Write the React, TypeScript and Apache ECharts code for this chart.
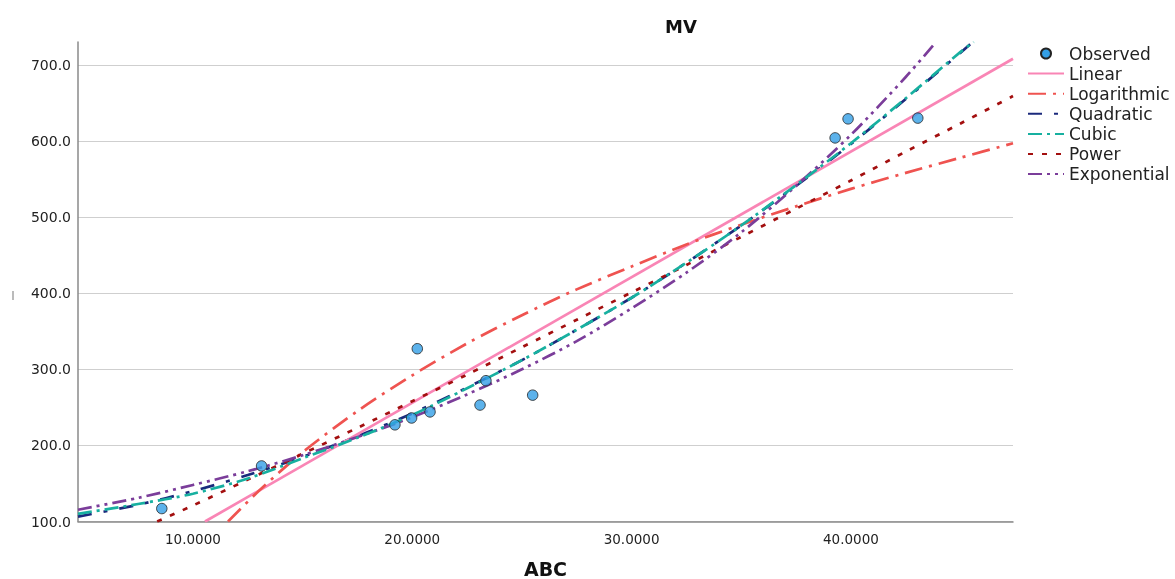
import React, { useEffect, useRef } from 'react';
import * as echarts from 'echarts';

// Observed data points (ABC, MV)
const obsX = [8.58, 13.13, 19.21, 19.97, 20.23, 20.81, 23.09, 23.36, 25.49, 39.28, 39.87, 43.05];
const obsY = [117, 173, 227, 236, 327, 244, 253, 285, 266, 604, 629, 630];

// Fitted curves
const linearX = [10.55, 47.39];
const linearY = [100, 708];

const logX = [11.6, 13, 15, 17.5, 20, 22.5, 25, 27.5, 30, 32.5, 35, 37.5, 40, 42.5, 45, 47.39];
const logY = [100, 140, 191, 245, 292, 334, 371, 405, 435, 464, 490, 514, 537, 558, 578, 597];

const quadX = [4.76, 7.5, 10, 12.5, 15, 17.5, 20, 22.5, 25, 27.5, 30, 32.5, 35, 37.5, 40, 42.5, 45, 45.55];
const quadY = [106.5, 122, 140, 161, 185, 212, 242, 276, 312, 352, 394, 440, 489, 541, 596, 655, 716, 730];

const cubicX = [4.76, 7.5, 10, 12.5, 15, 17.5, 20, 22.5, 25, 27.5, 30, 32.5, 35, 37.5, 40, 42.5, 45, 45.6];
const cubicY = [110, 123, 136.5, 156.5, 183, 210, 240, 275, 312, 352, 394, 440, 489, 542, 597, 656, 717, 730];

const powerX = [8.37, 10, 12.5, 15, 17.5, 20, 22.5, 25, 27.5, 30, 32.5, 35, 37.5, 40, 42.5, 45, 47.39];
const powerY = [100, 121, 155, 189, 223, 258, 293, 329, 365, 401, 437, 474, 511, 548, 586, 623, 659];

const expX = [4.76, 7.5, 10, 12.5, 15, 17.5, 20, 22.5, 25, 27.5, 30, 32.5, 35, 37.5, 40, 42.5, 43.88];
const expY = [115.5, 131, 148, 166, 187, 211, 237, 267, 300, 337, 380, 427, 480, 541, 608, 684, 730];

const xTicks = [10, 20, 30, 40];
const yTicks = [100, 200, 300, 400, 500, 600, 700];
const legendNames = ['Observed', 'Linear', 'Logarithmic', 'Quadratic', 'Cubic', 'Power', 'Exponential'];

const zip = (xs: number[], ys: number[]) => xs.map((x, i) => [x, ys[i]]);

const FONT = 'DejaVu Sans';

export default function App() {
  const ref = useRef<HTMLDivElement>(null);
  useEffect(() => {
    const chart = echarts.init(ref.current!, null, { renderer: 'svg' });
    const lineSeries = (name: string, xs: number[], ys: number[], color: string, type: any, z = 2) => ({
      name,
      type: 'line',
      data: zip(xs, ys),
      symbol: 'none',
      smooth: 0.3,
      z,
      lineStyle: { color, width: 2.7, type },
      itemStyle: { color },
    });
    chart.setOption({
      animation: false,
      title: {
        text: 'MV',
        left: 676,
        top: 12,
        textAlign: 'center',
        textStyle: { fontFamily: FONT, fontWeight: 'bold', fontSize: 18, color: '#111' },
      },
      grid: { left: 78, right: 162, top: 42, bottom: 57.5, outerBoundsMode: 'none', containLabel: false },
      legend: {
        orient: 'vertical',
        left: 1027,
        top: 45,
        padding: 0,
        itemWidth: 36,
        itemHeight: 10,
        itemGap: 3.1,
        itemStyle: { opacity: 0 },
        textStyle: { fontFamily: FONT, fontSize: 17, color: '#222' },
        data: legendNames.map((n) => (n === 'Observed' ? { name: n, itemStyle: { opacity: 1 } } : { name: n })),
      },
      graphic: [
        { type: 'rect', left: 12, top: 291, shape: { width: 2, height: 9 }, style: { fill: '#bbbbbb' } },
      ],
      xAxis: {
        type: 'value',
        min: 4.76,
        max: 47.39,
        name: 'ABC',
        nameLocation: 'middle',
        nameGap: 37.5,
        nameTextStyle: { fontFamily: FONT, fontWeight: 'bold', fontSize: 19, color: '#111' },
        axisLine: { show: true, onZero: false, lineStyle: { color: '#8a8a8a', width: 1.5 } },
        axisTick: { show: false, customValues: xTicks },
        axisLabel: {
          customValues: xTicks,
          formatter: (v: number) => v.toFixed(4),
          margin: 10,
          fontFamily: FONT,
          fontSize: 13.5,
          color: '#222',
        },
        splitLine: { show: false },
      },
      yAxis: {
        type: 'value',
        min: 100,
        max: 730,
        axisLine: { show: true, onZero: false, lineStyle: { color: '#8a8a8a', width: 1.5 } },
        axisTick: { show: false, customValues: yTicks },
        axisLabel: {
          customValues: yTicks,
          formatter: (v: number) => v.toFixed(1),
          margin: 7,
          fontFamily: FONT,
          fontSize: 14,
          color: '#222',
        },
        splitLine: { show: true, lineStyle: { color: '#cfcfcf', width: 1 } },
      },
      series: [
        {
          name: 'Observed',
          type: 'scatter',
          data: zip(obsX, obsY),
          symbol: 'circle',
          symbolSize: 10.5,
          z: 10,
          itemStyle: { color: '#339fe6', borderColor: '#222', borderWidth: 1 },
        },
        lineSeries('Linear', linearX, linearY, '#f985b5', 'solid', 3),
        lineSeries('Logarithmic', logX, logY, '#ef5350', [18, 7, 3, 7], 3),
        lineSeries('Quadratic', quadX, quadY, '#1b2a7c', [14, 12, 4, 12], 2),
        lineSeries('Cubic', cubicX, cubicY, '#17b0a0', [14, 5, 3, 5], 4),
        lineSeries('Power', powerX, powerY, '#a30f0f', [5, 9], 3),
        lineSeries('Exponential', expX, expY, '#7b3d9a', [14, 5, 3, 5, 3, 5], 3),
      ],
    });
    return () => chart.dispose();
  }, []);
  return <div ref={ref} style={{ position: 'fixed', left: 0, top: 0, width: 1175, height: 579 }} />;
}
